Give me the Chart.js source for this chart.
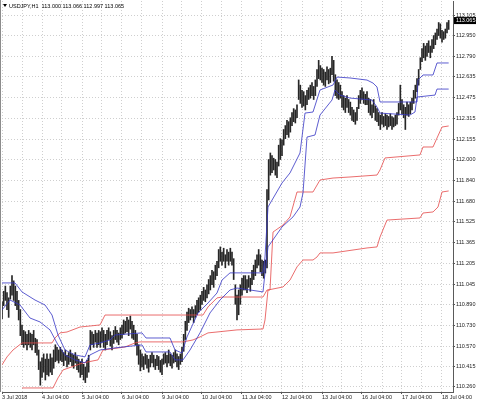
<!DOCTYPE html>
<html>
<head>
<meta charset="utf-8">
<script src="https://cdn.jsdelivr.net/npm/chart.js@4.4.1/dist/chart.umd.min.js"></script>
<style>
  html, body { margin: 0; padding: 0; background: #fff; }
  #wrap { width: 478px; height: 404px; }
</style>
</head>
<body>
<div id="wrap"><canvas id="usdjpy" width="478" height="404"></canvas></div>
<script>
const symbol = 'USDJPY,H1';
const lastBar = [113.000, 113.066, 112.997, 113.065]; // open high low close

const dayLabels = ['3 Jul 2018', '4 Jul 04:00', '5 Jul 04:00', '6 Jul 04:00', '9 Jul 04:00', '10 Jul 04:00',
  '11 Jul 04:00', '12 Jul 04:00', '13 Jul 04:00', '16 Jul 04:00', '17 Jul 04:00', '18 Jul 04:00'];
const priceTicks = [113.105, 112.950, 112.790, 112.635, 112.475, 112.315, 112.155, 112.000, 111.840, 111.680,
  111.525, 111.365, 111.205, 111.045, 110.890, 110.730, 110.570, 110.415, 110.260];

// hourly bars, one per hour from 3 Jul 04:00
const highs = [
  110.91,110.99,111.03,110.98,110.94,111.03,111.11,111.07,111.03,110.99,110.92,110.85,
  110.73,110.69,110.68,110.66,110.69,110.67,110.66,110.69,110.63,110.62,110.54,110.45,
  110.48,110.51,110.47,110.51,110.47,110.51,110.48,110.54,110.58,110.56,110.54,110.56,
  110.54,110.52,110.54,110.50,110.52,110.54,110.51,110.50,110.52,110.49,110.47,110.45,
  110.47,110.43,110.41,110.46,110.50,110.69,110.68,110.66,110.69,110.67,110.69,110.68,
  110.71,110.69,110.66,110.69,110.71,110.68,110.65,110.69,110.72,110.69,110.67,110.71,
  110.73,110.77,110.76,110.79,110.77,110.80,110.76,110.73,110.69,110.66,110.58,110.54,
  110.51,110.49,110.51,110.50,110.47,110.50,110.52,110.50,110.47,110.50,110.49,110.46,
  110.47,110.51,110.52,110.50,110.54,110.51,110.50,110.52,110.54,110.51,110.49,110.51,
  110.56,110.66,110.76,110.83,110.86,110.85,110.87,110.85,110.88,110.92,110.94,110.96,
  110.99,111.02,111.00,111.04,111.08,111.11,111.15,111.14,111.19,111.22,111.31,111.33,
  111.29,111.32,111.27,111.31,111.29,111.32,111.29,111.24,111.04,110.96,111.00,111.04,
  111.09,111.11,111.11,111.08,111.11,111.09,111.15,111.19,111.23,111.27,111.31,111.27,
  111.23,111.22,111.23,111.77,112.00,112.05,112.03,112.01,112.00,111.98,112.11,112.16,
  112.15,112.23,112.26,112.30,112.29,112.32,112.36,112.39,112.38,112.42,112.61,112.57,
  112.53,112.52,112.49,112.53,112.55,112.57,112.59,112.56,112.61,112.69,112.76,112.72,
  112.70,112.69,112.67,112.71,112.69,112.70,112.79,112.76,112.65,112.61,112.59,112.57,
  112.52,112.49,112.47,112.49,112.46,112.44,112.40,112.38,112.36,112.40,112.49,112.53,
  112.55,112.52,112.50,112.52,112.47,112.46,112.42,112.46,112.41,112.39,112.36,112.34,
  112.36,112.33,112.35,112.34,112.33,112.35,112.33,112.32,112.34,112.36,112.43,112.57,
  112.46,112.42,112.40,112.44,112.42,112.44,112.47,112.53,112.57,112.62,112.69,112.78,
  112.85,112.89,112.87,112.89,112.91,112.87,112.92,112.95,112.97,113.00,113.05,113.04,
  112.99,112.98,113.00,113.05,113.066
];
const lows = [
  110.78,110.88,110.92,110.85,110.79,110.93,110.96,110.92,110.88,110.85,110.77,110.65,
  110.58,110.56,110.58,110.54,110.58,110.56,110.54,110.58,110.52,110.50,110.39,110.27,
  110.33,110.37,110.31,110.35,110.34,110.37,110.35,110.40,110.45,110.46,110.44,110.46,
  110.45,110.42,110.46,110.41,110.43,110.45,110.42,110.40,110.44,110.39,110.37,110.33,
  110.35,110.31,110.29,110.33,110.37,110.54,110.58,110.56,110.60,110.56,110.58,110.56,
  110.60,110.56,110.54,110.58,110.62,110.57,110.54,110.59,110.62,110.60,110.58,110.62,
  110.63,110.66,110.67,110.68,110.65,110.70,110.63,110.62,110.58,110.50,110.43,110.38,
  110.41,110.39,110.43,110.40,110.37,110.41,110.44,110.41,110.39,110.42,110.39,110.37,
  110.35,110.43,110.44,110.41,110.44,110.42,110.40,110.44,110.45,110.41,110.39,110.43,
  110.45,110.53,110.62,110.69,110.75,110.77,110.79,110.75,110.79,110.81,110.83,110.85,
  110.89,110.92,110.91,110.94,110.97,111.00,111.04,111.02,111.08,111.11,111.17,111.22,
  111.19,111.22,111.17,111.22,111.19,111.22,111.19,111.08,110.89,110.77,110.81,110.89,
  110.96,111.00,111.00,110.98,111.02,110.99,111.04,111.08,111.11,111.17,111.19,111.14,
  111.11,111.09,111.13,111.17,111.69,111.88,111.90,111.92,111.88,111.86,111.95,112.00,
  112.03,112.11,112.16,112.19,112.17,112.21,112.26,112.29,112.28,112.32,112.46,112.43,
  112.40,112.41,112.38,112.42,112.46,112.47,112.49,112.46,112.49,112.56,112.62,112.61,
  112.59,112.57,112.56,112.61,112.58,112.59,112.65,112.60,112.49,112.47,112.46,112.47,
  112.40,112.38,112.36,112.40,112.36,112.34,112.30,112.29,112.27,112.30,112.39,112.43,
  112.46,112.43,112.42,112.42,112.36,112.34,112.32,112.36,112.30,112.29,112.26,112.23,
  112.27,112.25,112.26,112.23,112.25,112.26,112.23,112.25,112.26,112.27,112.34,112.38,
  112.35,112.32,112.23,112.34,112.33,112.35,112.38,112.43,112.47,112.52,112.57,112.69,
  112.75,112.78,112.76,112.79,112.82,112.78,112.82,112.85,112.88,112.92,112.95,112.93,
  112.90,112.92,112.93,112.97,112.997
];

// indicator lines, [bar, price]
const blueUpper = [[0,111.054],[7.8,111.054],[12,110.985],[19.8,110.923],[25.8,110.885],[30,110.808],
  [33.6,110.655],[37.8,110.540],[43.8,110.502],[49.8,110.487],[52.8,110.579],[58.8,110.594],[64.8,110.617],
  [67.8,110.655],[84,110.671],[86.4,110.632],[100.8,110.632],[103.8,110.540],[108,110.517],[111,110.640],
  [117.6,110.824],[123.6,110.900],[129,110.977],[132,111.076],[136.8,111.131],[156.6,111.131],[157.8,111.253],
  [159.6,111.636],[168,111.820],[172.8,111.897],[178.8,112.050],[181.8,112.356],[186.6,112.364],[190.8,112.533],
  [198.6,112.571],[201,112.632],[208.8,112.625],[219,112.609],[222.6,112.586],[225,112.556],[226.8,112.441],
  [249,112.441],[249.6,112.609],[252.6,112.648],[258.6,112.648],[261,112.740],[268,112.740]];
const blueLower = [[0,110.847],[4.8,110.923],[10.8,110.885],[16.8,110.785],[22.8,110.755],[28.8,110.694],
  [33.6,110.579],[37.8,110.502],[43.8,110.464],[49.8,110.441],[52.8,110.502],[58.8,110.540],[67.8,110.556],
  [84,110.579],[86.4,110.525],[100.8,110.525],[103.8,110.464],[108.6,110.464],[112.8,110.540],[118.8,110.671],
  [124.8,110.824],[130.8,110.923],[136.8,111.000],[141,111.015],[156.6,110.985],[157.8,111.131],[159.6,111.330],
  [168,111.483],[174.6,111.560],[178.8,111.636],[180.6,111.744],[183,112.172],[187.8,112.188],[190.8,112.341],
  [198,112.456],[199.8,112.533],[202.8,112.494],[208.8,112.471],[222,112.456],[225,112.402],[226.8,112.356],
  [244.8,112.341],[247.8,112.364],[249,112.479],[259.8,112.494],[261,112.540],[268,112.540]];
const redUpper = [[0,110.426],[3,110.487],[6.6,110.540],[12,110.594],[30,110.594],[31.8,110.632],[34.8,110.671],
  [39,110.678],[46.8,110.716],[58.8,110.732],[61.8,110.808],[120.6,110.808],[123.6,110.870],[129,110.939],
  [132,110.946],[156.6,110.946],[159,111.000],[160.8,111.000],[162.6,111.444],[168.6,111.498],[172.8,111.560],
  [177,111.751],[186.6,111.751],[190.8,111.843],[198.6,111.858],[208.8,111.866],[225,111.881],[226.8,111.920],
  [229.8,112.012],[250.8,112.035],[252.6,112.096],[258.6,112.096],[261,112.165],[264,112.249],[268,112.257]];
const redLower = [[12,110.249],[30.6,110.249],[33.6,110.326],[36.6,110.387],[48.6,110.441],[57.6,110.464],
  [60.6,110.540],[73.8,110.563],[79.8,110.594],[82.8,110.602],[108.6,110.602],[114.6,110.617],[118.8,110.640],
  [123.6,110.671],[129,110.678],[141,110.694],[156.6,110.701],[157.8,110.770],[159.6,111.000],[168.6,111.023],
  [172.8,111.076],[177,111.177],[180.6,111.230],[186.6,111.230],[189,111.253],[190.8,111.284],[198.6,111.284],
  [219,111.322],[225,111.330],[226.8,111.406],[231,111.536],[250.8,111.552],[252.6,111.590],[258.6,111.598],
  [261.6,111.636],[264,111.751],[268,111.759]];

const tickFont = {family: "'Liberation Sans', Arial, sans-serif", size: 5.5};

function lineSet(points, color) {
  return {
    type: 'line',
    data: points.map(p => ({x: p[0], y: p[1]})),
    borderColor: color,
    borderWidth: 0.8,
    pointRadius: 0,
    tension: 0,
    fill: false
  };
}

const terminal = {
  id: 'terminal',
  beforeDraw(chart) {
    const ctx = chart.ctx;
    ctx.save();
    ctx.fillStyle = '#fff';
    ctx.fillRect(0, 0, chart.width, chart.height);
    ctx.restore();
  },
  afterDraw(chart) {
    const {ctx, chartArea, scales} = chart;
    ctx.save();
    // window frame on the left
    ctx.strokeStyle = '#8c8c8c';
    ctx.lineWidth = 1;
    ctx.beginPath();
    ctx.moveTo(0.5, 0);
    ctx.lineTo(0.5, chartArea.bottom);
    ctx.stroke();
    // header
    ctx.fillStyle = '#000';
    ctx.beginPath();
    ctx.moveTo(3, 4);
    ctx.lineTo(7, 4);
    ctx.lineTo(5, 7);
    ctx.closePath();
    ctx.fill();
    ctx.font = "5.5px 'Liberation Sans', Arial, sans-serif";
    ctx.textBaseline = 'middle';
    ctx.textAlign = 'left';
    ctx.fillText(symbol + '  ' + lastBar.map(v => v.toFixed(3)).join(' '), 9, 6);
    // last price label
    const y = scales.y.getPixelForValue(lastBar[3]);
    ctx.fillStyle = '#000';
    ctx.fillRect(chartArea.right + 1, y - 3.5, 22, 7);
    ctx.fillStyle = '#fff';
    ctx.fillText(lastBar[3].toFixed(3), chartArea.right + 3, y + 0.3);
    ctx.restore();
  }
};

new Chart('usdjpy', {
  type: 'line',
  data: {
    datasets: [
      {
        type: 'bar',
        data: highs.map((h, i) => ({x: i, y: [lows[i], h]})),
        backgroundColor: '#262626',
        borderWidth: 0,
        barThickness: 1,
        order: 5
      },
      lineSet(blueUpper, '#3434c4'),
      lineSet(blueLower, '#3434c4'),
      lineSet(redUpper, '#e44848'),
      lineSet(redLower, '#e44848')
    ]
  },
  options: {
    responsive: false,
    animation: false,
    devicePixelRatio: 1,
    layout: {padding: {left: 2, top: 1, right: 0, bottom: 0}},
    plugins: {
      legend: {display: false},
      tooltip: {enabled: false}
    },
    scales: {
      x: {
        type: 'linear',
        min: 0,
        max: 270.6,
        offset: false,
        afterBuildTicks: scale => {
          const t = [];
          for (let v = 0; v <= 264; v += 12) t.push({value: v});
          scale.ticks = t;
        },
        afterFit: scale => {
          scale.height = 12;
          scale.paddingLeft = 0;
          scale.paddingRight = 0;
        },
        ticks: {
          autoSkip: false,
          maxRotation: 0,
          align: 'start',
          padding: 0,
          color: '#222',
          font: tickFont,
          callback: v => (v % 24 === 0 ? dayLabels[v / 24] : '')
        },
        grid: {
          color: '#cfcfcf',
          lineWidth: 1,
          offset: false,
          drawTicks: true,
          tickLength: 2,
          tickBorderDash: [],
          tickColor: c => (c.tick && c.tick.value % 24 === 0 ? '#555' : 'rgba(0,0,0,0)')
        },
        border: {display: true, color: '#5a5a5a', width: 1, dash: [1, 2]}
      },
      y: {
        type: 'linear',
        position: 'right',
        min: 110.218,
        max: 113.215,
        afterBuildTicks: scale => {
          scale.ticks = priceTicks.map(v => ({value: v}));
        },
        afterFit: scale => {
          scale.width = 25;
          scale.paddingTop = 0;
          scale.paddingBottom = 0;
        },
        ticks: {
          padding: 1,
          color: '#222',
          font: tickFont,
          callback: v => v.toFixed(3)
        },
        grid: {
          color: '#cfcfcf',
          lineWidth: 1,
          drawTicks: true,
          tickLength: 2,
          tickBorderDash: [],
          tickColor: '#555'
        },
        border: {display: true, color: '#5a5a5a', width: 1, dash: [1, 2]}
      }
    }
  },
  plugins: [terminal]
});
</script>
</body>
</html>
